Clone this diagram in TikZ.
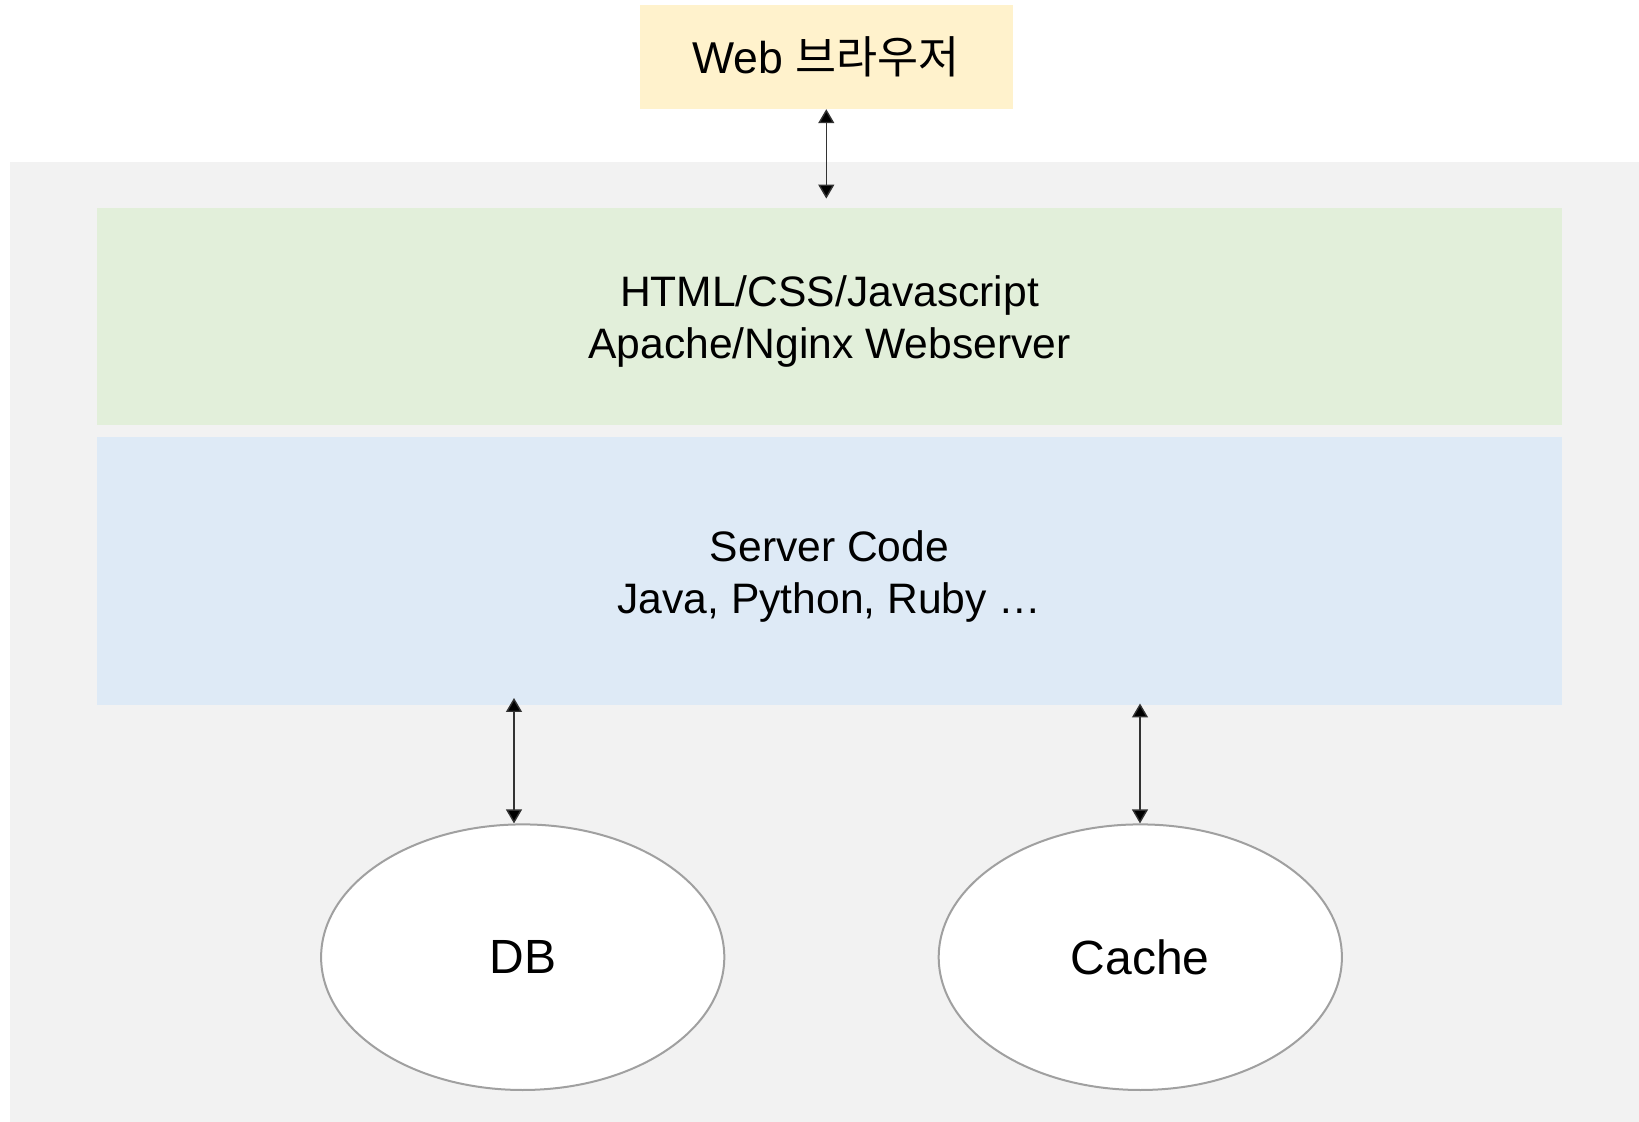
\documentclass[tikz,border=0pt]{standalone}
\usepackage{fontspec}
\setmainfont{Liberation Sans}
\newfontfamily\kr{Noto Sans CJK KR}
\usetikzlibrary{shapes.geometric,arrows.meta}

\definecolor{panelgray}{HTML}{F2F2F2}
\definecolor{browseryellow}{HTML}{FFF2CC}
\definecolor{webgreen}{HTML}{E2EFDA}
\definecolor{codeblue}{HTML}{DEEAF6}
\definecolor{ellipseline}{HTML}{A0A0A0}
\definecolor{arrowline}{HTML}{333333}

\tikzset{
  layerbox/.style={rectangle, inner sep=0pt},
  layertext/.style={inner sep=0pt, align=center,
    font=\fontsize{21.3pt}{26.3pt}\selectfont},
  store/.style={ellipse, draw=ellipseline, line width=1pt, fill=white,
    inner sep=0pt, minimum width=201.6pt, minimum height=132.8pt,
    font=\fontsize{24pt}{28pt}\selectfont},
  biarrow/.style={draw=arrowline, line width=0.7pt,
    {Triangle[width=8pt,length=7pt,fill=black]}-{Triangle[width=8pt,length=7pt,fill=black]}}
}

\begin{document}
\begin{tikzpicture}[x=0.5pt,y=-0.5pt]
  \useasboundingbox (0,0) rectangle (1639,1122);

  % server-side panel
  \fill[panelgray] (10,162) rectangle (1639,1122);

  % client
  \node[layerbox, fill=browseryellow, minimum width=186.4pt, minimum height=51.9pt,
        font=\fontsize{22.3pt}{26pt}\selectfont]
    (web) at (826.3,56.9) {Web {\kr 브라우저}};

  % server layers
  \node[layerbox, fill=webgreen, minimum width=732.5pt, minimum height=108.4pt]
    (front) at (829.5,316.4) {};
  \node[layertext] (fronttext) at ([yshift=-2.5pt]front.center)
    {HTML/CSS/Javascript\\Apache/Nginx Webserver};
  \node[layerbox, fill=codeblue, minimum width=732.5pt, minimum height=134pt]
    (code) at (829.5,571) {};
  \node[layertext] (codetext) at ([yshift=-2.8pt]code.center)
    {Server Code\\Java, Python, Ruby …};

  % storage
  \node[store] (db) at (522.7,957.2) {\raisebox{-1pt}{DB}};
  \node[store] (cache) at (1140.3,957.2) {\raisebox{-1pt}{Cache}};

  % connector end points inside the server code layer
  \coordinate (dbport) at (514,698);
  \coordinate (cacheport) at (1140,703.5);

  % connectors
  \draw[biarrow] (web.south) -- ([yshift=4.5pt]front.north -| web.south);
  \draw[biarrow] (dbport) -- (dbport |- db.north);
  \draw[biarrow] (cacheport) -- (cacheport |- cache.north);
\end{tikzpicture}
\end{document}
